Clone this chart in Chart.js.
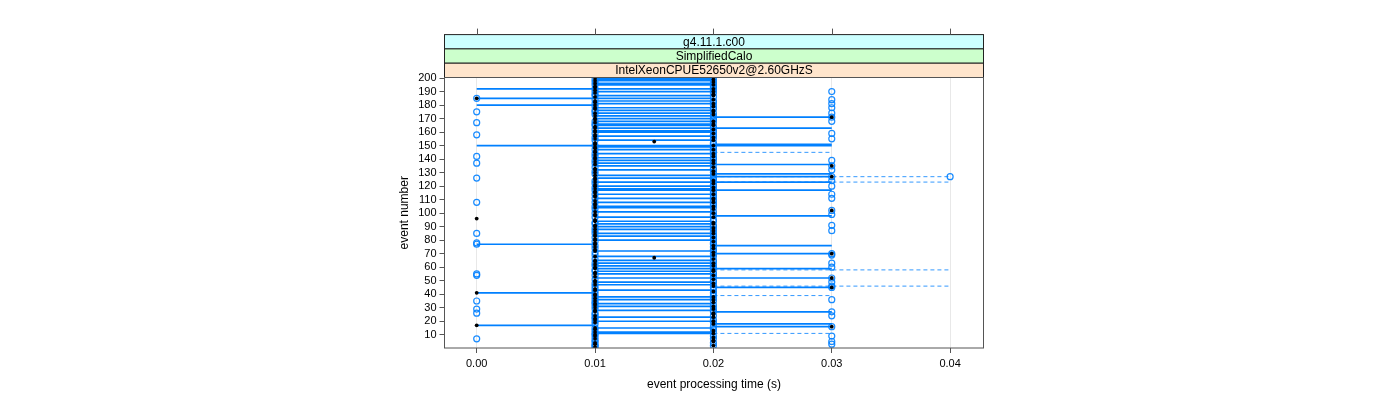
<!DOCTYPE html>
<html>
<head>
<meta charset="utf-8">
<script src="https://cdn.jsdelivr.net/npm/chart.js@4.4.0/dist/chart.umd.min.js"></script>
<style>
html,body{margin:0;background:#fff}
#wrap{width:1400px;height:400px;position:relative}
</style>
</head>
<body>
<div id="wrap"><canvas id="nchart"></canvas></div>
<script>
// strip labels (outer -> inner)
const stripLabels = ["g4.11.1.c00", "SimplifiedCalo", "IntelXeonCPUE52650v2@2.60GHzS"]
const stripColors = ["#ccffff", "#ccffcc", "#ffe5cc"]

const xTicks = [0.00, 0.01, 0.02, 0.03, 0.04]
const yTicks = [10,20,30,40,50,60,70,80,90,100,110,120,130,140,150,160,170,180,190,200]

// reference run time per event (events 1..200), black dots
const refTime = [
  0.01,0.02,0.01,0.01,0.02,0.02,0.01,0.02,0.01,0.01,
  0.02,0.01,0.02,0.01,0.01,0.03,0.00,0.02,0.01,0.02,
  0.01,0.01,0.02,0.01,0.02,0.02,0.01,0.01,0.02,0.01,
  0.02,0.01,0.01,0.02,0.01,0.02,0.01,0.02,0.01,0.01,
  0.00,0.02,0.01,0.01,0.03,0.02,0.01,0.02,0.01,0.01,
  0.02,0.03,0.01,0.02,0.01,0.01,0.02,0.02,0.01,0.01,
  0.02,0.01,0.02,0.01,0.01,0.02,0.015,0.01,0.02,0.03,
  0.02,0.01,0.01,0.02,0.01,0.02,0.01,0.01,0.02,0.01,
  0.01,0.02,0.01,0.01,0.02,0.01,0.02,0.01,0.02,0.01,
  0.01,0.02,0.02,0.01,0.01,0.00,0.02,0.01,0.01,0.02,
  0.01,0.03,0.02,0.01,0.02,0.01,0.01,0.02,0.01,0.02,
  0.02,0.01,0.01,0.02,0.01,0.01,0.02,0.01,0.02,0.01,
  0.01,0.02,0.01,0.02,0.01,0.01,0.03,0.01,0.02,0.01,
  0.02,0.01,0.01,0.02,0.03,0.01,0.02,0.01,0.02,0.01,
  0.01,0.02,0.01,0.02,0.01,0.01,0.02,0.01,0.01,0.02,
  0.01,0.01,0.015,0.02,0.01,0.02,0.01,0.01,0.02,0.01,
  0.01,0.02,0.01,0.01,0.02,0.02,0.01,0.02,0.01,0.01,
  0.03,0.01,0.02,0.01,0.02,0.02,0.01,0.01,0.02,0.01,
  0.02,0.01,0.01,0.02,0.00,0.01,0.02,0.02,0.01,0.02,
  0.01,0.02,0.01,0.01,0.02,0.01,0.02,0.01,0.02,0.01
]

// other runs: events with an open circle at each time value
const circ000 = [7,26,29,35,54,55,77,78,85,108,126,137,142,158,167,175,185]
const circ001 = [1,2,3,5,6,8,10,11,13,15,18,20,22,23,25,26,29,31,33,34,36,38,40,42,44,46,48,51,54,57,58,61,63,66,69,71,74,76,79,82,85,87,89,92,93,97,100,103,105,108,111,114,117,119,122,124,129,131,134,137,139,142,144,147,150,154,156,159,162,165,166,168,173,175,176,179,181,184,187,188,190,192,195,197,199]
const circ002 = [2,4,7,9,12,14,16,19,21,24,27,28,30,32,35,37,39,41,43,45,47,49,50,53,55,56,59,60,62,64,65,68,70,72,73,75,77,78,80,81,83,84,86,88,90,91,94,95,98,99,101,104,106,107,109,110,112,113,115,116,118,120,121,123,125,126,128,130,132,133,136,138,140,141,143,145,146,148,149,151,152,155,157,158,160,161,163,164,167,169,170,172,174,177,178,180,182,183,186,189,191,193,194,196,198,200]
const circ003 = [3,5,9,16,24,27,36,45,46,49,52,60,63,69,70,87,91,99,102,111,114,120,124,127,132,135,139,155,159,168,171,174,178,181,184,190]
const circ004 = [127]

// horizontal segments (events)
const seg000to001 = [192,185,180,150,77,41,17]
const seg001to002 = [200,199,198,196,195,192,190,187,185,183,181,178,176,174,172,170,168,166,165,163,161,160,157,154,150,149,147,144,141,139,137,135,132,128,126,123,120,118,117,114,111,108,105,104,101,97,94,92,90,88,85,83,80,72,68,65,63,61,59,57,55,52,49,47,43,38,36,33,31,28,23,20,15,12,11]
const seg002to003 = [171,163,151,150,136,129,127,123,117,98,76,70,59,52,45,27,18,16]
const dash002to003 = [145,39,11]
const dash002to004 = [127,123,58,46]

function pts(evts, t){ return evts.map(e => ({x: t, y: e})) }
function segs(list){
    let out = []
    list.forEach(s => {
        s.evts.forEach(e => { out.push({x: s.a, y: e}, {x: s.b, y: e}, {x: s.b, y: null}) })
    })
    return out
}

let refPts = refTime.map((t, i) => ({x: t, y: i + 1}))
let openPts = [].concat(pts(circ000, 0.00), pts(circ001, 0.01), pts(circ002, 0.02), pts(circ003, 0.03), pts(circ004, 0.04))
let solidLines = segs([
    {a: 0.00, b: 0.01, evts: seg000to001},
    {a: 0.01, b: 0.02, evts: seg001to002},
    {a: 0.02, b: 0.03, evts: seg002to003}
])
let dashLines = segs([
    {a: 0.02, b: 0.03, evts: dash002to003},
    {a: 0.02, b: 0.04, evts: dash002to004}
])

const lattice = {
    id: 'lattice',
    afterDraw(chart){
        const {ctx, chartArea: a, scales: {x}} = chart
        const h = 14.3
        ctx.save()
        // strips
        ctx.font = '12px "Liberation Sans", Arial, sans-serif'
        ctx.textAlign = 'center'
        ctx.textBaseline = 'middle'
        for (let i = 0; i < 3; i++){
            let top = a.top - (3 - i) * h
            ctx.fillStyle = stripColors[i]
            ctx.fillRect(a.left, top, a.right - a.left, h)
            ctx.strokeStyle = '#222'
            ctx.lineWidth = 1
            ctx.strokeRect(a.left, top, a.right - a.left, h)
            ctx.fillStyle = '#000'
            ctx.fillText(stripLabels[i], (a.left + a.right) / 2, top + h / 2 + 0.5)
        }
        // top ticks
        let stripTop = a.top - 3 * h
        ctx.strokeStyle = '#555'
        xTicks.forEach(v => {
            let px = Math.round(x.getPixelForValue(v)) + 0.5
            ctx.beginPath()
            ctx.moveTo(px, stripTop)
            ctx.lineTo(px, stripTop - 6)
            ctx.stroke()
        })
        // panel box
        ctx.strokeStyle = '#555'
        ctx.strokeRect(a.left, a.top, a.right - a.left, a.bottom - a.top)
        ctx.restore()
    }
}

var ctx = document.getElementById("nchart")
var chartGraph = new Chart(ctx, {
    type: 'scatter',
    data: {
        datasets: [
            {
                type: 'line', data: solidLines, borderColor: '#0080ff', borderWidth: 1.7,
                pointRadius: 0, spanGaps: false, order: 4
            },
            {
                type: 'line', data: dashLines, borderColor: 'rgba(0,128,255,0.8)', borderWidth: 1,
                borderDash: [4, 3], pointRadius: 0, spanGaps: false, order: 3
            },
            {
                data: openPts, pointStyle: 'circle', pointRadius: 3, borderWidth: 1.2,
                borderColor: 'rgba(0,128,255,0.9)', backgroundColor: 'rgba(0,0,0,0)', order: 2
            },
            {
                data: refPts, pointStyle: 'circle', pointRadius: 1.9, borderWidth: 0,
                backgroundColor: '#000', order: 1
            }
        ]
    },
    options: {
        responsive: true,
        maintainAspectRatio: false,
        animation: false,
        events: [],
        layout: {padding: {left: 397, right: 416.5, top: 77.5, bottom: 8}},
        plugins: {legend: {display: false}, tooltip: {enabled: false}},
        scales: {
            x: {
                type: 'linear', min: -0.00272, max: 0.04282,
                afterBuildTicks: s => { s.ticks = xTicks.map(v => ({value: v})) },
                afterFit: s => { s.height = 44 },
                border: {display: false},
                grid: {color: '#e8e8e8', tickColor: '#555', tickLength: 5, lineWidth: 1},
                ticks: {color: '#000', font: {size: 11, family: '"Liberation Sans", Arial'}, padding: 4,
                    maxRotation: 0, autoSkip: false, callback: v => v.toFixed(2)},
                title: {display: true, text: 'event processing time (s)', color: '#000',
                    font: {size: 12, family: '"Liberation Sans", Arial'}, padding: 0}
            },
            y: {
                type: 'linear', min: 0.2, max: 200.4,
                afterBuildTicks: s => { s.ticks = yTicks.map(v => ({value: v})) },
                afterFit: s => { s.width = 47.5 },
                border: {display: false},
                grid: {drawOnChartArea: false, tickColor: '#555', tickLength: 5},
                ticks: {color: '#000', font: {size: 11, family: '"Liberation Sans", Arial'}, padding: 3,
                    autoSkip: false},
                title: {display: true, text: 'event number', color: '#000',
                    font: {size: 12, family: '"Liberation Sans", Arial'}, padding: 0}
            }
        }
    },
    plugins: [lattice]
})
</script>
</body>
</html>
